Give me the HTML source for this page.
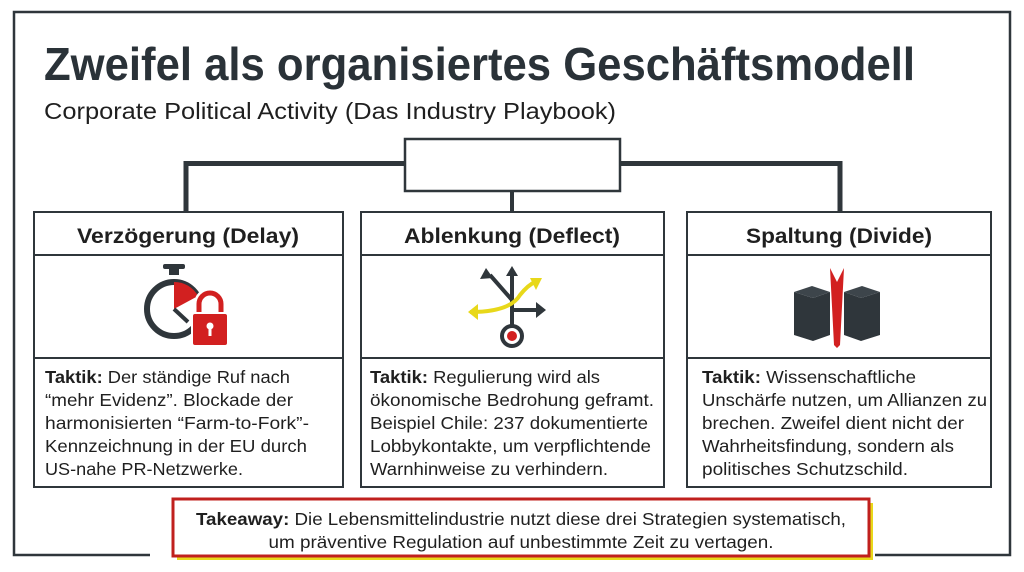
<!DOCTYPE html>
<html><head><meta charset="utf-8"><style>
html,body{margin:0;padding:0;background:#fff;}
svg{display:block;}
text{font-family:"Liberation Sans",sans-serif;fill:#1f1f1f;}
</style></head><body>
<svg width="1024" height="572" viewBox="0 0 1024 572" xmlns="http://www.w3.org/2000/svg">
<rect width="1024" height="572" fill="#fff"/>
<path d="M150 555 H14 V12 H1010 V555 H875" fill="none" stroke="#2f363b" stroke-width="2.5"/>
<text x="44" y="80" font-size="46" font-weight="bold" textLength="871" lengthAdjust="spacingAndGlyphs" style="fill:#2a3238">Zweifel als organisiertes Geschäftsmodell</text>
<text x="44" y="119" font-size="23" textLength="572" lengthAdjust="spacingAndGlyphs">Corporate Political Activity (Das Industry Playbook)</text>
<path d="M186 213 V163.5 H840 V213" fill="none" stroke="#2f363b" stroke-width="5"/>
<line x1="512" y1="190" x2="512" y2="213" stroke="#2f363b" stroke-width="4"/>
<rect x="405" y="139" width="215" height="52" fill="#fff" stroke="#2f363b" stroke-width="2.5"/>
<g fill="#fff" stroke="#2f363b" stroke-width="2">
<rect x="34" y="212" width="309" height="275"/>
<rect x="361" y="212" width="303" height="275"/>
<rect x="687" y="212" width="304" height="275"/>
<line x1="34" y1="255" x2="343" y2="255"/><line x1="361" y1="255" x2="664" y2="255"/><line x1="687" y1="255" x2="991" y2="255"/>
<line x1="34" y1="358" x2="343" y2="358"/><line x1="361" y1="358" x2="664" y2="358"/><line x1="687" y1="358" x2="991" y2="358"/>
</g>
<g font-size="21" font-weight="bold" text-anchor="middle">
<text x="188" y="243" textLength="222" lengthAdjust="spacingAndGlyphs">Verzögerung (Delay)</text>
<text x="512" y="243" textLength="216" lengthAdjust="spacingAndGlyphs">Ablenkung (Deflect)</text>
<text x="839" y="243" textLength="186" lengthAdjust="spacingAndGlyphs">Spaltung (Divide)</text>
</g>
<!-- icon 1 -->
<circle cx="174" cy="309" r="27" fill="none" stroke="#2f363b" stroke-width="6"/>
<rect x="169" y="267" width="10" height="8" fill="#2f363b"/>
<rect x="163" y="264" width="22" height="5" rx="2" fill="#2f363b"/>
<path d="M174 309 L174 282 A27 27 0 0 1 198 296 Z" fill="#d22020"/>
<line x1="174" y1="309" x2="188" y2="322" stroke="#2f363b" stroke-width="4"/>
<path d="M199 316 V304 A11 11 0 0 1 221 304 V316" fill="none" stroke="#fff" stroke-width="10"/>
<path d="M199 316 V304 A11 11 0 0 1 221 304 V316" fill="none" stroke="#d22020" stroke-width="5"/>
<rect x="192" y="313" width="36" height="33" rx="3" fill="#d22020" stroke="#fff" stroke-width="2"/>
<circle cx="210" cy="326" r="3.5" fill="#fff"/><rect x="208.5" y="327" width="3" height="9" fill="#fff"/>
<!-- icon 2 -->
<g transform="translate(-10,0)">
<path d="M522 330 V300 L500 275" fill="none" stroke="#2f363b" stroke-width="4"/>
<path d="M522 300 V272" fill="none" stroke="#2f363b" stroke-width="4"/>
<path d="M516 276 L522 266 L528 276 Z" fill="#2f363b"/>
<path d="M490 279 L496 268 L503 278 Z" fill="#2f363b"/>
<path d="M480 312 Q520 312 530 295 Q538 285 545 282" fill="none" stroke="#e8d81a" stroke-width="4"/>
<path d="M478 312 L488 304 L488 320 Z" fill="#e8d81a"/>
<path d="M540 278 L552 278 L546 290 Z" fill="#e8d81a"/>
<path d="M522 310 H548" stroke="#2f363b" stroke-width="4"/>
<path d="M546 302 L556 310 L546 318 Z" fill="#2f363b"/>
<circle cx="522" cy="336" r="10" fill="#fff" stroke="#2f363b" stroke-width="4"/>
<circle cx="522" cy="336" r="5" fill="#d22020"/>
</g>
<!-- icon 3 -->
<path d="M813 298 L830 292 V335 L813 341 Z" fill="#2f363b"/>
<path d="M794 292 L813 298 V341 L794 335 Z" fill="#2f363b"/>
<path d="M794 292 L812 286 L830 292 L813 298 Z" fill="#3d454b"/>
<path d="M861 298 L844 292 V335 L861 341 Z" fill="#2f363b"/>
<path d="M880 292 L861 298 V341 L880 335 Z" fill="#2f363b"/>
<path d="M880 292 L862 286 L844 292 L861 298 Z" fill="#3d454b"/>
<path d="M830 268 L837 282 L844 268 L840 345 L837 348 L834 345 Z" fill="#d22020"/>
<g font-size="17.5">
<text x="45" y="383" textLength="245" lengthAdjust="spacingAndGlyphs"><tspan font-weight="bold">Taktik:</tspan> Der ständige Ruf nach</text>
<text x="45" y="406" textLength="248" lengthAdjust="spacingAndGlyphs">“mehr Evidenz”. Blockade der</text>
<text x="45" y="429" textLength="264" lengthAdjust="spacingAndGlyphs">harmonisierten “Farm-to-Fork”-</text>
<text x="45" y="452" textLength="262" lengthAdjust="spacingAndGlyphs">Kennzeichnung in der EU durch</text>
<text x="45" y="475" textLength="198" lengthAdjust="spacingAndGlyphs">US-nahe PR-Netzwerke.</text>
<text x="370" y="383" textLength="230" lengthAdjust="spacingAndGlyphs"><tspan font-weight="bold">Taktik:</tspan> Regulierung wird als</text>
<text x="370" y="406" textLength="284" lengthAdjust="spacingAndGlyphs">ökonomische Bedrohung geframt.</text>
<text x="370" y="429" textLength="278" lengthAdjust="spacingAndGlyphs">Beispiel Chile: 237 dokumentierte</text>
<text x="370" y="452" textLength="281" lengthAdjust="spacingAndGlyphs">Lobbykontakte, um verpflichtende</text>
<text x="370" y="475" textLength="238" lengthAdjust="spacingAndGlyphs">Warnhinweise zu verhindern.</text>
<text x="702" y="383" textLength="214" lengthAdjust="spacingAndGlyphs"><tspan font-weight="bold">Taktik:</tspan> Wissenschaftliche</text>
<text x="702" y="406" textLength="285" lengthAdjust="spacingAndGlyphs">Unschärfe nutzen, um Allianzen zu</text>
<text x="702" y="429" textLength="262" lengthAdjust="spacingAndGlyphs">brechen. Zweifel dient nicht der</text>
<text x="702" y="452" textLength="252" lengthAdjust="spacingAndGlyphs">Wahrheitsfindung, sondern als</text>
<text x="702" y="475" textLength="206" lengthAdjust="spacingAndGlyphs">politisches Schutzschild.</text>
</g>
<rect x="177" y="503" width="696" height="57" fill="#e8d81a"/>
<rect x="173" y="499" width="696" height="57" fill="#fff" stroke="#c0201e" stroke-width="3"/>
<g font-size="17.5" text-anchor="middle">
<text x="521" y="525" textLength="650" lengthAdjust="spacingAndGlyphs"><tspan font-weight="bold">Takeaway:</tspan> Die Lebensmittelindustrie nutzt diese drei Strategien systematisch,</text>
<text x="521" y="548" textLength="505" lengthAdjust="spacingAndGlyphs">um präventive Regulation auf unbestimmte Zeit zu vertagen.</text>
</g>
</svg>
</body></html>
